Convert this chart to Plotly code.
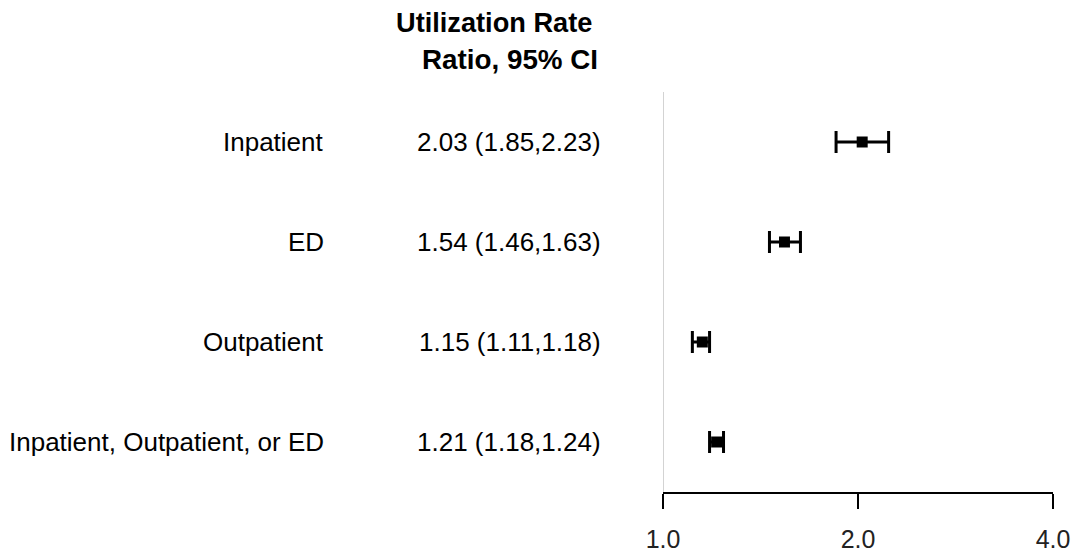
import plotly.graph_objects as go

categories = ["Inpatient", "ED", "Outpatient", "Inpatient, Outpatient, or ED"]
estimates = [2.03, 1.54, 1.15, 1.21]
lower = [1.85, 1.46, 1.11, 1.18]
upper = [2.23, 1.63, 1.18, 1.24]
tick_vals = [1, 2, 4]
tick_text = ["1.0", "2.0", "4.0"]
header_lines = ["Utilization Rate", "Ratio, 95% CI"]

n = len(categories)
ypos = [n - i for i in range(n)]
ci_text = [f"{e:.2f} ({l:.2f},{u:.2f})" for e, l, u in zip(estimates, lower, upper)]

L, R, T, B = 663, 21, 92, 61
W, H = 1074, 553
pw = W - L - R
ph = H - T - B

def px_to_paper(px):
    return (px - L) / pw

def py_to_paper(py):
    return (H - B - py) / ph

fig = go.Figure()
fig.add_trace(go.Scatter(
    x=estimates, y=ypos, mode="markers",
    marker=dict(symbol="square", size=11, color="black"),
    error_x=dict(type="data", symmetric=False,
                 array=[u - e for u, e in zip(upper, estimates)],
                 arrayminus=[e - l for e, l in zip(estimates, lower)],
                 color="black", thickness=3, width=11),
    showlegend=False, hoverinfo="skip",
))

fig.add_shape(type="line", x0=1, x1=1, xref="x", y0=0, y1=1, yref="paper",
              line=dict(color="#cfcfcf", width=1.8), layer="below")

font = "Liberation Sans, Arial, sans-serif"
ann = []
for c, t, y in zip(categories, ci_text, ypos):
    ann.append(dict(text=c, x=px_to_paper(326), xref="paper", y=y, yref="y",
                    xanchor="right", yanchor="middle", showarrow=False,
                    font=dict(size=26, color="black", family=font)))
    ann.append(dict(text=t, x=px_to_paper(603), xref="paper", y=y, yref="y",
                    xanchor="right", yanchor="middle", showarrow=False,
                    font=dict(size=26, color="black", family=font)))
ann.append(dict(text="<b>" + header_lines[0] + "</b>", x=px_to_paper(594), xref="paper",
                y=py_to_paper(23), yref="paper", xanchor="right", yanchor="middle",
                showarrow=False, font=dict(size=27.2, color="black", family=font)))
ann.append(dict(text="<b>" + header_lines[1] + "</b>", x=px_to_paper(600), xref="paper",
                y=py_to_paper(60), yref="paper", xanchor="right", yanchor="middle",
                showarrow=False, font=dict(size=27.8, color="black", family=font)))

fig.update_layout(
    width=W, height=H,
    margin=dict(l=L, r=R, t=T, b=B, autoexpand=False),
    paper_bgcolor="white", plot_bgcolor="white",
    annotations=ann,
    hovermode=False,
    xaxis=dict(type="log", range=[0, 0.60206], tickvals=tick_vals, ticktext=tick_text,
               automargin=False,
               showgrid=False, zeroline=False, showline=True, linecolor="black", linewidth=1.5,
               ticks="outside", ticklen=15, tickwidth=1.5, tickcolor="black",
               tickfont=dict(size=25, color="#222", family=font), ticklabelstandoff=9),
    yaxis=dict(range=[0.5, 4.5], automargin=False, showgrid=False, zeroline=False,
               showticklabels=False, showline=False, ticks=""),
)

fig.write_html("out.html", config={"displayModeBar": False},
               post_script="document.body.style.margin='0';document.body.style.overflow='hidden';")
